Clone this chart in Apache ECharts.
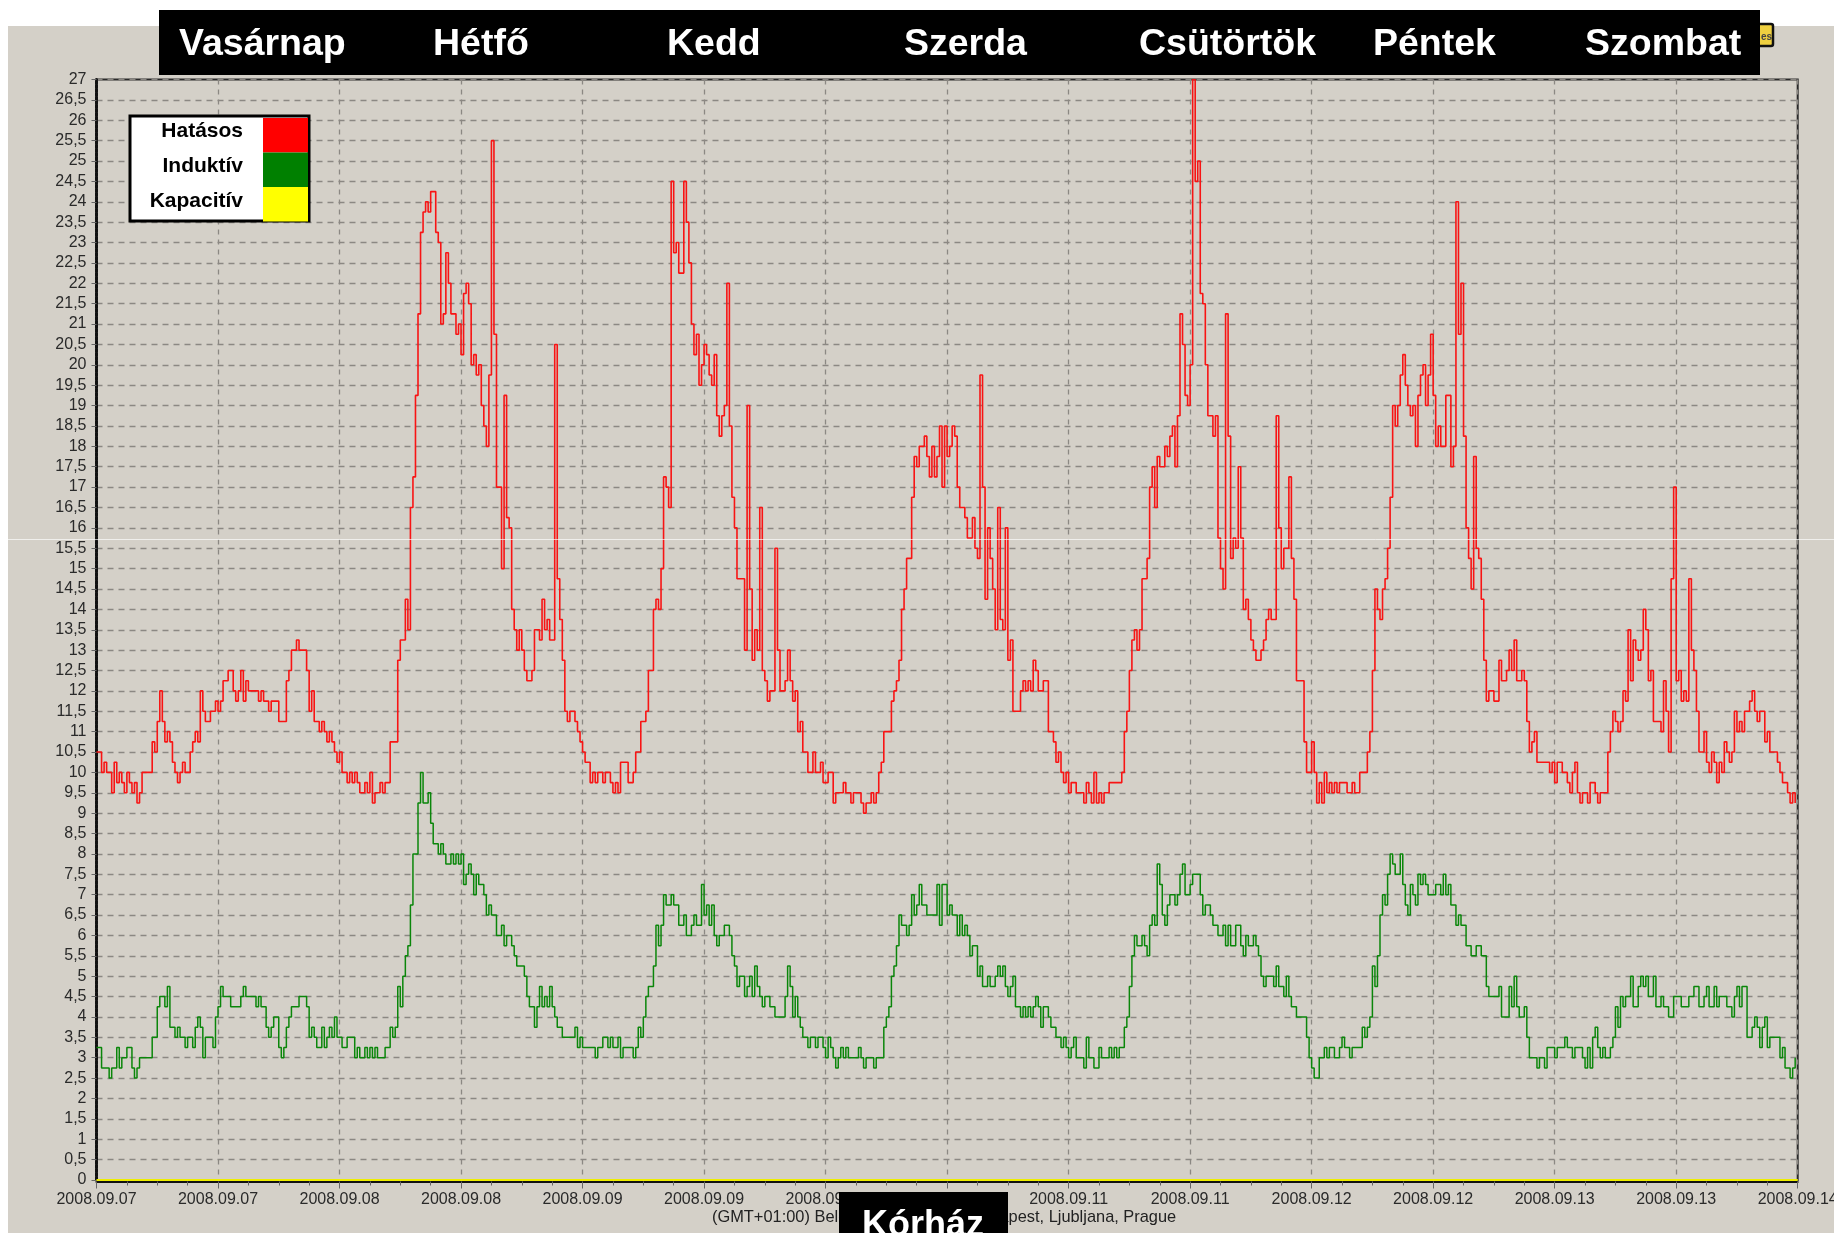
<!DOCTYPE html>
<html>
<head>
<meta charset="utf-8">
<title>Kórház</title>
<script src="https://cdn.jsdelivr.net/npm/echarts@6/dist/echarts.min.js"></script>
<style>
  html, body { margin: 0; padding: 0; background: #fff; overflow: hidden; }
  #grafico { width: 1834px; height: 1233px; }
</style>
</head>
<body>
<div id="grafico"></div>
<script>
// 15 minute samples, 96 per day
const hatasosVasarnap = [
  10.5,10.5,10,10.25,10,10,9.5,10.25,9.75,10,9.75,9.5,
  10,9.75,9.5,9.75,9.25,9.5,10,10,10,10,10.75,10.5,
  11.25,12,11.25,10.75,11,10.75,10.25,10,9.75,10,10.25,10,
  10,10.5,10.75,11,10.75,12,11.5,11.25,11.25,11.5,11.5,11.75,
  11.5,11.75,12.25,12.25,12.5,12.5,12,11.75,12,12.5,11.75,12.25,
  12,12,12,12,11.75,12,11.75,11.75,11.5,11.75,11.75,11.75,
  11.25,11.25,11.25,12.25,12.5,13,13,13.25,13,13,13,12.5,
  11.5,12,11.25,11.25,11,11.25,11,10.75,11,10.75,10.5,10.25
]
const hatasosHetfo = [
  10.5,10,10,9.75,10,9.75,10,9.75,9.5,9.5,9.75,9.5,
  10,9.25,9.5,9.5,9.75,9.5,9.75,9.75,10.75,10.75,10.75,12.75,
  13.25,13.25,14.25,13.5,16.5,17.25,19.25,21.25,23.25,23.75,24,23.75,
  24.25,24.25,23.25,23,21,21.25,22.75,22,21.25,21.25,20.75,21,
  20.25,21.75,22,21.5,20,20.25,19.75,20,19,18.5,18,19.75,
  25.5,20.75,17,17,15,19.25,16.25,16,14,13.5,13,13.5,
  13,12.5,12.25,12.25,12.5,13.5,13.5,13.25,14.25,13.5,13.75,13.25,
  13.25,20.5,14.75,13.75,12.75,11.5,11.25,11.5,11.5,11.25,11,10.75
]
const hatasosKedd = [
  10.5,10.25,10.25,9.75,10,9.75,10,10,9.75,10,10,9.75,
  9.5,9.75,9.5,10.25,10.25,10.25,9.75,9.75,10,10.5,10.5,11.25,
  11.25,11.5,12.5,12.5,14,14.25,14,15,17.25,17,16.5,24.5,
  22.75,23,22.25,22.25,24.5,23.5,22.5,21,20.25,20.75,19.5,20,
  20.5,20.25,19.75,19.5,20.25,18.75,18.25,18.75,19,22,18.5,16.75,
  16,14.75,14.75,14.75,13,19,14.5,12.75,13.5,13,16.5,12.5,
  12.25,11.75,12,12,15.5,13,12,12,12.25,13,12.25,11.75,
  12,11,11.25,10.5,10.5,10,10,10.5,10,10,10.25,9.75
]
const hatasosSzerda = [
  9.75,10,10,9.25,9.5,9.5,9.5,9.75,9.5,9.5,9.25,9.5,
  9.5,9.5,9.25,9,9.25,9.25,9.5,9.25,9.5,10,10.25,11,
  11,11,11.75,12,12.25,12.75,14,14.5,15.25,15.25,16.75,17.75,
  17.5,18,18,18.25,17.75,17.25,18,17.25,17.75,18.5,17,18.5,
  17.75,18,18.5,18.25,17,16.5,16.5,16.25,15.75,15.75,16.25,15.5,
  15.25,19.75,17,14.25,16,15.25,14.5,13.5,16.5,13.75,13.5,16,
  12.75,13.25,11.5,11.5,11.5,12,12.25,12,12.25,12,12.75,12.5,
  12,12,12.25,12.25,11,11,10.75,10.25,10.5,10,9.75,10
]
const hatasosCsutortok = [
  9.5,9.75,9.75,9.5,9.5,9.5,9.25,9.75,9.5,9.25,10,9.25,
  9.5,9.25,9.5,9.5,9.75,9.75,9.75,9.75,9.75,10,11,11.5,
  12.5,13.25,13.5,13,13.5,14.75,14.75,15.25,17,17.5,16.5,17.75,
  17.5,17.5,18,17.75,18.25,18.5,17.5,18.75,21.25,20.5,19.25,19,
  20,27,24.5,25,21.75,21.5,20,18.75,18.75,18.25,18.75,15.75,
  15,14.5,21.25,18.25,15.25,15.75,15.5,17.5,15.75,14,14.25,13.75,
  13.25,13,12.75,12.75,13,13.25,13.75,14,13.75,13.75,18.75,16,
  15,15.5,15.5,17.25,15.25,14.25,12.25,12.25,12.25,10.75,10,10
]
const hatasosPentek = [
  10.75,10,9.25,9.75,9.25,10,9.5,9.75,9.5,9.75,9.5,9.75,
  9.75,9.75,9.5,9.5,9.75,9.5,9.5,10,10,10,10.5,11,
  12.5,14.5,14,13.75,14.5,14.75,15.5,16.75,19,18.5,19,19.75,
  20.25,19.5,19,18.75,19,18,19.25,19.75,20,19,19.75,20.75,
  19.25,18,18.5,18,18,19.25,19.25,17.5,18,24,20.75,22,
  18.25,16,15.25,14.5,17.75,15.5,15.25,14.25,12.75,11.75,12,12,
  11.75,11.75,12.75,12.25,12.25,12.5,13,12.5,13.25,12.25,12.25,12.5,
  12.25,11.25,10.5,10.75,11,10.25,10.25,10.25,10.25,10.25,10,10.25
]
const hatasosSzombat = [
  9.75,10.25,10.25,10,10,9.75,9.5,10,10.25,9.5,9.25,9.5,
  9.5,9.25,9.75,9.75,9.5,9.25,9.5,9.5,9.5,10.5,11,11.5,
  11.25,11,11.25,12,11.75,13.5,12.25,13.25,13,12.75,13,14,
  13.5,12.25,12.5,11.25,11.25,11.25,11,12.25,11.5,10.5,14.75,17,
  12.25,12.5,11.75,12,11.75,14.75,13,12.5,11.5,10.5,10.5,11,
  10.25,10,10.5,10.25,9.75,10.25,10,10.75,10.5,10.25,10.5,11.5,
  11,11.25,11,11.5,11.5,11.75,12,11.5,11.25,11.5,11.5,10.75,
  11,10.5,10.5,10.5,10.25,10,9.75,9.75,9.5,9.25,9.5,9.25
]

const induktivVasarnap = [
  3.25,3.25,2.75,2.75,2.75,2.5,2.75,2.75,3.25,2.75,3,3,
  3.25,3.25,2.75,2.5,2.75,3,3,3,3,3,3.5,3.5,
  4.25,4.5,4.5,4.25,4.75,3.75,3.75,3.5,3.75,3.5,3.5,3.25,
  3.5,3.5,3.25,3.75,4,3.75,3,3.5,3.5,3.5,3.25,4,
  4.25,4.75,4.5,4.5,4.5,4.25,4.25,4.25,4.25,4.5,4.75,4.5,
  4.5,4.5,4.5,4.25,4.5,4.25,4.25,3.75,3.5,3.75,4,4,
  3.25,3,3.25,3.75,4,4.25,4.25,4.25,4.5,4.5,4.5,4.25,
  3.5,3.75,3.5,3.25,3.25,3.75,3.25,3.5,3.75,3.5,4,3.5
]
const induktivHetfo = [
  3.5,3.25,3.25,3.5,3.5,3.5,3,3.25,3,3,3.25,3,
  3.25,3,3.25,3,3,3,3.25,3.25,3.75,3.5,3.75,4.75,
  4.25,5,5.5,5.75,6.75,8,8,9.25,10,9.25,9.25,9.5,
  8.75,8.25,8.25,8,8.25,8,7.75,7.75,8,7.75,8,7.75,
  8,7.25,7.5,7.75,7.5,7,7.5,7.25,7.25,7,6.5,6.75,
  6.5,6.5,6,6,6.25,5.75,6,6,5.75,5.5,5.25,5.25,
  5.25,5,4.5,4.25,4.25,3.75,4.25,4.75,4.25,4.5,4.25,4.75,
  4.25,4,3.75,3.75,3.5,3.5,3.5,3.5,3.5,3.75,3.25,3.5
]
const induktivKedd = [
  3.25,3.25,3.25,3.25,3.25,3,3.25,3.25,3.5,3.5,3.25,3.5,
  3.25,3.25,3.5,3,3.25,3.25,3.25,3.25,3,3.25,3.75,3.5,
  4,4.5,4.75,4.75,5.25,6.25,5.75,6.25,7,6.75,6.75,7,
  6.75,6.75,6.25,6.25,6.5,6,6,6.25,6.5,6.25,6.25,7.25,
  6.5,6.75,6.25,6.75,6,5.75,6,6,6.25,6.25,6,5.5,
  5.25,4.75,5,5,4.5,4.75,5,4.5,5.25,4.75,4.5,4.25,
  4.5,4.5,4.25,4.25,4,4,4,4,4.5,5.25,4.75,4,
  4.5,4,3.75,3.5,3.5,3.25,3.5,3.5,3.25,3.5,3.5,3.25
]
const induktivSzerda = [
  3,3.5,3.25,3,2.75,3,3.25,3,3.25,3,3,3,
  3,3.25,3,2.75,3,3,3,2.75,3,3,3,3.75,
  4,4.25,5,5.25,5.75,6.5,6.25,6.25,6,6.25,7,6.5,
  6.75,7.25,6.75,6.75,6.5,6.5,6.5,6.5,7.25,6.25,7.25,7.25,
  6.5,6.75,6.5,6.5,6,6.5,6,6.25,6,5.5,5.75,5.75,
  5,5.25,4.75,4.75,5,4.75,4.75,5,5.25,5,5.25,4.75,
  4.5,4.75,5,4.25,4.25,4,4.25,4,4.25,4,4.25,4.5,
  4.25,3.75,4.25,4.25,4,3.75,3.75,3.5,3.5,3.25,3.5,3.25
]
const induktivCsutortok = [
  3,3.25,3.5,3,3,3,2.75,3.5,3,3,2.75,2.75,
  3.25,3,3,3,3.25,3,3.25,3,3.25,3.25,3.75,4,
  4.75,5.5,6,5.75,5.75,6,5.75,5.5,6.25,6.5,6.25,7.75,
  7.25,6.5,6.25,6.75,7,7,6.75,7,7.5,7.75,7,7,
  7.25,7.5,7.5,7.5,7,6.5,6.75,6.75,6.5,6.25,6.25,6,
  6,6.25,5.75,6.25,5.75,5.75,6.25,6.25,5.75,5.5,6,5.75,
  5.75,6,5.75,5.5,5,4.75,5,5,5,4.75,5.25,4.75,
  4.75,4.5,5,4.5,4.25,4.25,4,4,4,4,3.5,3
]
const induktivPentek = [
  2.75,2.5,2.5,3,3,3.25,3,3.25,3.25,3,3,3.25,
  3.5,3.25,3.25,3,3.25,3.25,3.25,3.25,3.75,3.5,3.75,4,
  5.25,4.75,5.5,6.5,7,6.75,7.5,8,7.75,7.5,7.5,8,
  7.25,6.75,6.5,7.25,7,6.75,7.5,7.25,7.5,7.25,7,7,
  7,7.25,7.25,7,7.5,7,7.25,6.75,6.75,6.25,6.5,6.25,
  6.25,5.75,5.75,5.5,5.5,5.75,5.75,5.5,5.5,4.75,4.5,4.5,
  4.5,4.5,4.75,4,4,4,4.75,4.25,5,4.25,4,4,
  4.25,3.5,3,3,3,2.75,3,3,2.75,3.25,3.25,3.25
]
const induktivSzombat = [
  3,3.25,3.25,3.25,3.5,3.25,3.25,3,3.25,3.25,3.25,3,
  2.75,3.25,2.75,3.5,3.75,3.25,3,3.25,3,3,3.25,3.5,
  4.25,3.75,4.5,4.25,4.5,4.5,5,4.25,4.25,4.75,5,4.75,
  5,4.5,4.5,5,4.25,4.25,4.5,4.25,4.25,4,4,4.5,
  4.5,4.5,4.25,4.25,4.25,4.5,4.5,4.75,4.75,4.25,4.25,4.5,
  4.75,4.25,4.25,4.75,4.25,4.5,4.5,4.5,4.25,4.25,4,4.5,
  4.75,4.25,4.75,4.75,3.5,3.5,3.75,4,3.75,3.25,3.75,4,
  3.25,3.5,3.5,3.5,3.5,3,3.25,2.75,2.75,2.5,2.75,3
]

// the yellow series stays on zero the whole week
const kapacitivOrak = [0, 168]
const kapacitivErtekek = [0, 0]

const hatasos = [].concat(hatasosVasarnap, hatasosHetfo, hatasosKedd, hatasosSzerda, hatasosCsutortok, hatasosPentek, hatasosSzombat)
const induktiv = [].concat(induktivVasarnap, induktivHetfo, induktivKedd, induktivSzerda, induktivCsutortok, induktivPentek, induktivSzombat)

const napok = ["Vasárnap", "Hétfő", "Kedd", "Szerda", "Csütörtök", "Péntek", "Szombat"]
const napokX = [179, 433, 667, 904, 1139, 1373, 1585]
const sorozatok = ["Hatásos", "Induktív", "Kapacitív"]
const sorozatSzinek = ["#ff0000", "#008000", "#ffff00"]
const datumok = [
  "2008.09.07", "2008.09.07", "2008.09.08", "2008.09.08", "2008.09.09", "2008.09.09", "2008.09.10", "2008.09.10",
  "2008.09.11", "2008.09.11", "2008.09.12", "2008.09.12", "2008.09.13", "2008.09.13", "2008.09.14"
]

const betu = '"Liberation Sans", Arial, sans-serif'
const hatter = "#d4d0c8"
const racs = "#8b8883"

function pontok(ertekek) {
  return ertekek.map((v, i) => [i * 0.25, v])
}

let elemek = [
  { type: "rect", z: -1, shape: { x: 8, y: 26, width: 1826, height: 1207 }, style: { fill: hatter } },
  // yellow icon peeking out from behind the black band
  { type: "rect", z: 90, shape: { x: 1750, y: 24, width: 23, height: 22, r: 2 }, style: { fill: "#efd040", stroke: "#111", lineWidth: 2.5 } },
  { type: "text", z: 91, style: { x: 1761, y: 37, text: "es", fill: "#444", font: "bold 10px " + betu, verticalAlign: "middle" } },
  { type: "rect", z: 100, shape: { x: 159, y: 10, width: 1601, height: 65 }, style: { fill: "#000" } },
  { type: "text", z: 60, style: { x: 712, y: 1217, text: "(GMT+01:00) Belgrade, Bratislava, Budapest, Ljubljana, Prague", fill: "#222", font: "16.4px " + betu, verticalAlign: "middle" } },
  { type: "rect", z: 100, shape: { x: 839, y: 1192, width: 169, height: 41 }, style: { fill: "#000" } },
  { type: "text", z: 101, style: { x: 923, y: 1226, text: "Kórház", fill: "#fff", font: "bold 36px " + betu, align: "center", verticalAlign: "middle" } },
  // jelmagyarázat
  { type: "rect", z: 100, shape: { x: 130, y: 116, width: 179, height: 105 }, style: { fill: "#fff", stroke: "#000", lineWidth: 3 } },
  // seam running across the screenshot
  { type: "line", z: 110, shape: { x1: 0, y1: 539.5, x2: 1834, y2: 539.5 }, style: { stroke: "rgba(255,255,255,0.65)", lineWidth: 1 } },
]

napok.forEach((nap, i) => {
  elemek.push({ type: "text", z: 101, style: { x: napokX[i], y: 45, text: nap, fill: "#fff", font: "bold 37.5px " + betu, verticalAlign: "middle" } })
})

sorozatok.forEach((nev, i) => {
  elemek.push({ type: "rect", z: 101, shape: { x: 263, y: 118 + i * 34.5, width: 45, height: 34.5 }, style: { fill: sorozatSzinek[i] } })
  elemek.push({ type: "text", z: 101, style: { x: 243, y: 131 + i * 35, text: nev, fill: "#000", font: "bold 21px " + betu, align: "right", verticalAlign: "middle" } })
})

let myChart = echarts.init(document.getElementById("grafico"), null, { renderer: "canvas" })

let option = {
  backgroundColor: "#fff",
  animation: false,
  textStyle: { fontFamily: betu },
  grid: {
    left: 96.5,
    right: 36.3,
    top: 79.5,
    bottom: 53,
    outerBoundsMode: "none",
    show: true,
    backgroundColor: "transparent",
    borderColor: "#2a2a2a",
    borderWidth: 2,
  },
  xAxis: {
    type: "value",
    min: 0,
    max: 168,
    interval: 12,
    offset: 1.5,
    axisLine: { show: true, onZero: false, lineStyle: { color: "#111", width: 2 } },
    axisTick: { show: true, length: 7, lineStyle: { color: "#666", width: 1 } },
    minorTick: { show: true, splitNumber: 4, length: 4, lineStyle: { color: "#666", width: 1 } },
    axisLabel: {
      show: true,
      color: "#2a2a2a",
      fontSize: 16,
      margin: 10,
      hideOverlap: false,
      showMinLabel: true,
      showMaxLabel: true,
      formatter: (v) => datumok[v / 12],
    },
    splitLine: { show: true, lineStyle: { color: racs, width: 1.3, type: [5, 5] } },
  },
  yAxis: {
    type: "value",
    min: 0,
    max: 27,
    interval: 0.5,
    axisLine: { show: true, lineStyle: { color: "#111", width: 3, type: [3, 1] } },
    axisTick: { show: true, length: 5, lineStyle: { color: "#666", width: 1 } },
    axisLabel: {
      show: true,
      color: "#2a2a2a",
      fontSize: 16,
      margin: 10,
      formatter: (v) => String(v).replace(".", ","),
    },
    splitLine: { show: true, lineStyle: { color: racs, width: 1.3, type: [6, 5] } },
  },
  series: [
    {
      name: sorozatok[0],
      type: "line",
      step: "end",
      data: pontok(hatasos),
      showSymbol: false,
      lineStyle: { color: "#f81414", width: 1.6 },
      z: 5,
    },
    {
      name: sorozatok[1],
      type: "line",
      step: "end",
      data: pontok(induktiv),
      showSymbol: false,
      lineStyle: { color: "#0a860a", width: 1.5 },
      z: 5,
    },
    {
      name: sorozatok[2],
      type: "line",
      data: kapacitivOrak.map((h, i) => [h, kapacitivErtekek[i]]),
      showSymbol: false,
      clip: false,
      lineStyle: { color: "#eeee00", width: 2 },
      z: 6,
    },
  ],
  graphic: { elements: elemek },
}

option && myChart.setOption(option)
</script>
</body>
</html>
